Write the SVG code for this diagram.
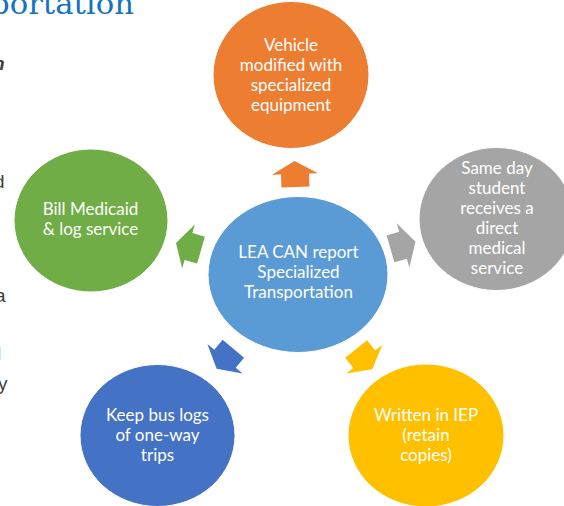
<svg xmlns="http://www.w3.org/2000/svg" width="564" height="506" viewBox="0 0 564 506">
  <style>
    .node { stroke: #ffffff; stroke-width: 1; }
    .label { font-family: Lato, "Open Sans", "Liberation Sans", sans-serif; font-size: 17px; fill: #ffffff; text-anchor: middle; }
    .side { font-family: "Liberation Sans", Arial, sans-serif; font-size: 19px; fill: #404040; }
    .title { font-family: "DejaVu Serif", "Liberation Serif", serif; font-size: 29px; fill: #1673c2; }
  </style>
  <defs>
    <!-- block arrow pointing along +x, centred on the base of its head -->
    <path id="arrow" d="M13,0 L0,-23 L0,-14 L-13,-14 L-13,14 L0,14 L0,23 Z"/>
  </defs>
  <rect width="564" height="506" fill="#ffffff"/>

  <!-- slide title and bullet text clipped at the left edge -->
  <text class="title" x="-10" y="13.5" textLength="144" lengthAdjust="spacingAndGlyphs">portation</text>
  <text class="side" x="-7" y="70" font-weight="bold" font-style="italic">n</text>
  <text class="side" x="-6" y="188">d</text>
  <text class="side" x="-5" y="302">a</text>
  <text class="side" x="-3" y="360">l</text>
  <text class="side" x="-2" y="390">y</text>

  <g id="connectors">
    <use href="#arrow" fill="#ed7d31" transform="translate(295,174) rotate(-92)"/>
    <use href="#arrow" fill="#a5a5a5" transform="translate(403,245.3) rotate(-16)"/>
    <use href="#arrow" fill="#ffc000" transform="translate(364.2,359.2) rotate(51.5)"/>
    <use href="#arrow" fill="#4472c4" transform="translate(225,358.7) rotate(130)"/>
    <use href="#arrow" fill="#70ad47" transform="translate(188.5,246.5) rotate(196)"/>
  </g>

  <g id="hub">
    <ellipse class="node" cx="298" cy="274.5" rx="90" ry="78" fill="#5b9bd5"/>
    <text class="label" x="298.5" y="258">LEA CAN report</text>
    <text class="label" x="298.5" y="278">Specialized</text>
    <text class="label" x="298.5" y="298">Transportation</text>
  </g>

  <g id="vehicle">
    <ellipse class="node" cx="291" cy="75" rx="78" ry="73.5" fill="#ed7d31"/>
    <text class="label" x="291" y="50.5">Vehicle</text>
    <text class="label" x="291" y="70.5">modified with</text>
    <text class="label" x="291" y="90.5">specialized</text>
    <text class="label" x="291" y="110.5">equipment</text>
  </g>

  <g id="same-day">
    <ellipse class="node" cx="496.5" cy="219" rx="77.5" ry="71.5" fill="#a5a5a5"/>
    <text class="label" x="497" y="173.5">Same day</text>
    <text class="label" x="497" y="193.5">student</text>
    <text class="label" x="497" y="214">receives a</text>
    <text class="label" x="497" y="234">direct</text>
    <text class="label" x="497" y="254">medical</text>
    <text class="label" x="497" y="274">service</text>
  </g>

  <g id="iep">
    <ellipse class="node" cx="426" cy="435.5" rx="78" ry="71.5" fill="#ffc000"/>
    <text class="label" x="426" y="420.5">Written in IEP</text>
    <text class="label" x="426" y="440.5">(retain</text>
    <text class="label" x="426" y="460.5">copies)</text>
  </g>

  <g id="bus-logs">
    <ellipse class="node" cx="157.5" cy="435.5" rx="77.5" ry="71" fill="#4472c4"/>
    <text class="label" x="157.5" y="421">Keep bus logs</text>
    <text class="label" x="157.5" y="441">of one-way</text>
    <text class="label" x="157.5" y="461">trips</text>
  </g>

  <g id="billing">
    <ellipse class="node" cx="91" cy="220.5" rx="77" ry="71.5" fill="#70ad47"/>
    <text class="label" x="90.5" y="215">Bill Medicaid</text>
    <text class="label" x="90.5" y="235">&amp; log service</text>
  </g>
</svg>
